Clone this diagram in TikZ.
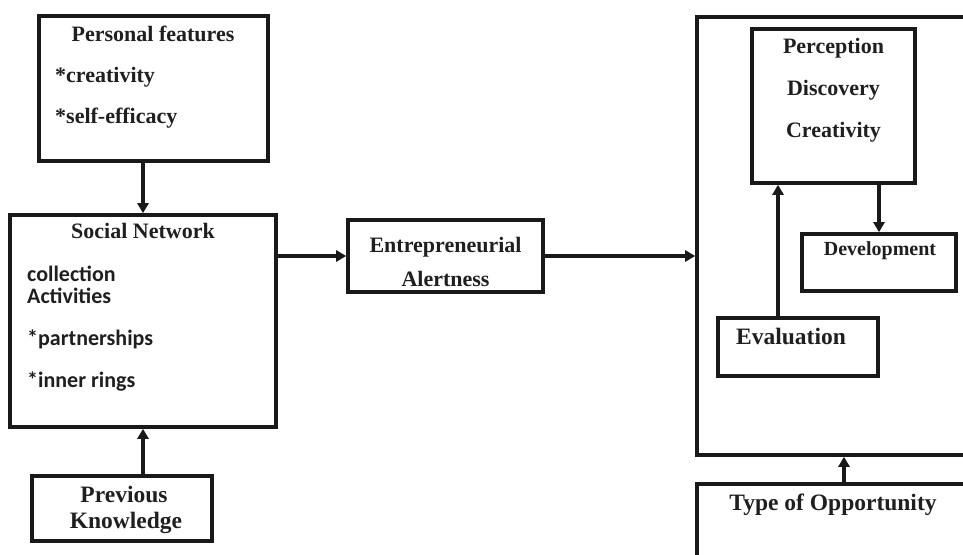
\documentclass[tikz,border=0pt]{standalone}
\usepackage{fontspec}
\setmainfont{Liberation Serif}
\newfontfamily\itemfont{Carlito}
\usetikzlibrary{arrows.meta}

\begin{document}
\begin{tikzpicture}[x=1pt,y=-1pt,
  box/.style 2 args={draw=black!90, line width=3.6pt, minimum width=#1,
    minimum height=#2, inner sep=0pt},
  arr/.style={line width=3.4pt, draw=black!90,
    -{Triangle[length=10pt,width=11pt]}},
  lbl/.style={inner sep=0pt, text=black!88, font=\fontsize{22}{26}\selectfont\bfseries},
  lblb/.style={lbl, font=\fontsize{23.5}{27}\selectfont\bfseries},
  lbls/.style={lbl, font=\fontsize{20}{24}\selectfont\bfseries},
  itm/.style={inner sep=0pt, text=black!88, anchor=base west,
    font=\fontsize{22}{26}\selectfont\itemfont\bfseries}]

  \useasboundingbox (0,0) rectangle (963,554);
  \clip (0,0) rectangle (963,554);

  % boxes
  \node[box={229pt}{145pt}] (pers) at (153.5,88.5) {};
  \node[box={266pt}{212pt}] (soc)  at (143,321) {};
  \node[box={180pt}{65pt}]  (prev) at (122,508.5) {};
  \node[box={195pt}{72pt}]  (ea)   at (445.5,256) {};
  \node[box={303pt}{438pt}] (big)  at (848.5,236) {};
  \node[box={163pt}{154pt}] (perc) at (833.5,106) {};
  \node[box={154pt}{57pt}]  (dev)  at (879,262.5) {};
  \node[box={160pt}{58pt}]  (eval) at (798,347) {};
  \node[box={303pt}{116pt}] (type) at (848.5,542) {};

  % texts
  \node[lbl, anchor=base] (tpers) at (153,41) {Personal features};
  \node[lbl, anchor=base west] (tcre) at (55,82) {*creativity};
  \node[lbl, anchor=base west] (tself) at (55,123) {*self-efficacy};

  \node[lbl, anchor=base] (tsoc) at (143,238) {Social Network};
  \node[itm] (tcol) at (27,281) {collection};
  \node[itm] (tact) at (27,303) {Activities};
  \node[itm] (tpar) at (27,345) {*partnerships};
  \node[itm] (tinn) at (27,387) {*inner rings};

  \node[lblb, anchor=base] (tprev) at (124,502) {Previous};
  \node[lblb, anchor=base] (tknow) at (126,528) {Knowledge};

  \node[lbl, anchor=base] (tent) at (445.5,252) {Entrepreneurial};
  \node[lbl, anchor=base] (talr) at (445.5,286) {Alertness};

  \node[lbl, anchor=base] (tper) at (833.5,53) {Perception};
  \node[lbl, anchor=base] (tdis) at (833.5,95) {Discovery};
  \node[lbl, anchor=base] (tcrv) at (833.5,137) {Creativity};

  \node[lbls, anchor=base] (tdev) at (880,255) {Development};
  \node[lblb, anchor=base] (teva) at (791,344) {Evaluation};
  \node[lblb, anchor=base] (ttyp) at (833,510) {Type of Opportunity};

  % connectors
  \coordinate (evx) at (778,0);
  \coordinate (tyx) at (844,0);
  \draw[arr] (pers.south -| soc.north) -- (soc.north);
  \draw[arr] (prev.north -| soc.south) -- (soc.south);
  \draw[arr] (soc.east |- ea.west) -- (ea.west);
  \draw[arr] (ea.east) -- (ea.east -| big.west);
  \draw[arr] (perc.south -| dev.north) -- (dev.north);
  \draw[arr] (eval.north -| evx) -- (perc.south -| evx);
  \draw[arr] (type.north -| tyx) -- (big.south -| tyx);
\end{tikzpicture}
\end{document}
